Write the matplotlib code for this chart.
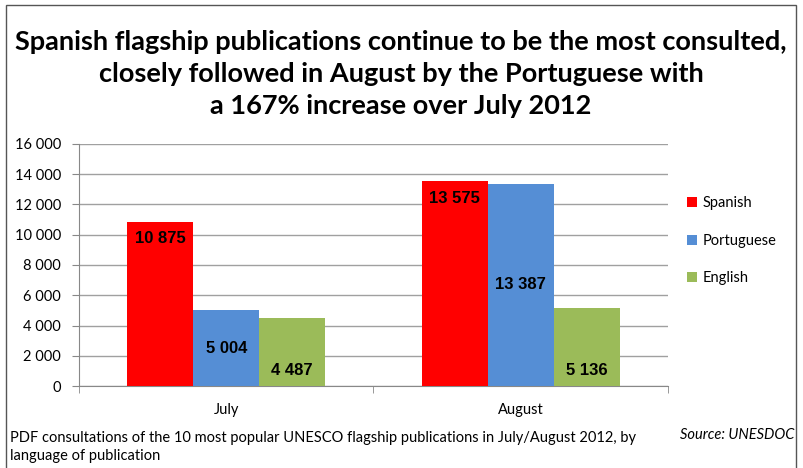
import matplotlib.pyplot as plt
from matplotlib.patches import Rectangle
import numpy as np

months = ["July", "August"]
languages = ["Spanish", "Portuguese", "English"]
spanish = [10875, 13575]
portuguese = [5004, 13387]
english = [4487, 5136]
yticks = [0, 2000, 4000, 6000, 8000, 10000, 12000, 14000, 16000]

colors = ["#ff0000", "#558ed5", "#9bbb59"]
W, H = 804, 468

def fmt(v):
    return "{:,}".format(v).replace(",", " ")

fig = plt.figure(figsize=(W / 100, H / 100), dpi=100)
fig.patches.append(Rectangle((6 / W, -0.01), 790 / W, 1 - 5 / H + 0.01, transform=fig.transFigure,
                             fill=False, edgecolor="#555555", lw=1))

title = ("Spanish flagship publications continue to be the most consulted,\n"
         "closely followed in August by the Portuguese with\n"
         "a 167% increase over July 2012")
fig.text(401 / W, 1 - 74 / H, title, ha="center", va="center", fontsize=19.5,
         fontweight="bold", family="Lato", linespacing=1.42)

ax = fig.add_axes([79 / W, 1 - 386 / H, (668 - 79) / W, (386 - 144) / H])
x = np.arange(len(months))
w = 0.224
series = [spanish, portuguese, english]
for i, (name, vals) in enumerate(zip(languages, series)):
    bars = ax.bar(x + (i - 1) * w, vals, w, color=colors[i], label=name, zorder=3)
    for xi, v in zip(x + (i - 1) * w, vals):
        if i == 0:
            y, va = v - 1150, "center"
        elif i == 1:
            y, va = v / 2, "center"
        else:
            y, va = 1050, "center"
        ax.text(xi, y, fmt(v), ha="center", va=va, fontsize=12, fontweight="bold",
                family="Liberation Sans", zorder=4)

ax.set_xlim(-0.5, 1.5)
ax.set_ylim(0, 16000)
ax.set_yticks(yticks)
ax.set_yticklabels([fmt(t) for t in yticks], family="Lato", fontsize=10.5)
ax.set_xticks(x)
ax.set_xticklabels(months, family="Lato", fontsize=10.5)
ax.tick_params(axis="x", length=0, pad=12)
ax.tick_params(axis="y", length=5, color="#888888", pad=8)
ax.set_xticks([-0.5, 0.5, 1.5], minor=True)
ax.tick_params(axis="x", which="minor", length=5, color="#888888")
ax.grid(axis="y", color="#a0a0a0", lw=1, zorder=0)
for s in ["top", "right"]:
    ax.spines[s].set_visible(False)
ax.spines["left"].set_color("#888888")
ax.spines["bottom"].set_color("#888888")

leg = ax.legend(loc="center left", bbox_to_anchor=(1.01, 0.6), frameon=False,
                prop={"family": "Lato", "size": 10.5}, handlelength=0.7, handleheight=0.7,
                handletextpad=0.4, labelspacing=1.6)

fig.text(10 / W, 1 - 447 / H, "PDF consultations of the 10 most popular UNESCO flagship publications in July/August 2012, by\nlanguage of publication",
         ha="left", va="center", fontsize=10.5, family="Lato", linespacing=1.35)
fig.text(794 / W, 1 - 435 / H, "Source: UNESDOC", ha="right", va="center", fontsize=10.5,
         family="Lato", style="italic")

fig.savefig("out.png", dpi=100)
